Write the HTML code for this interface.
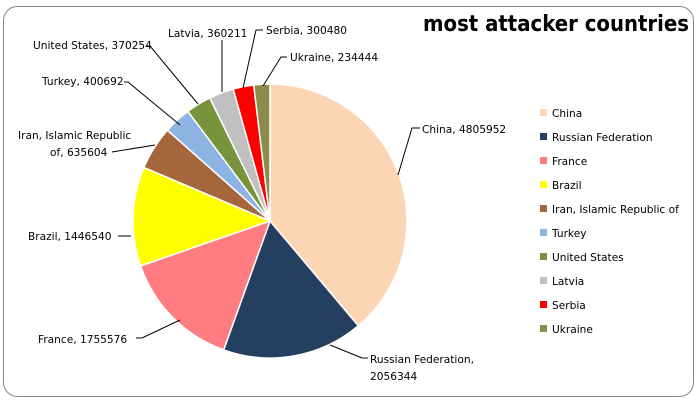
<!DOCTYPE html>
<html><head><meta charset="utf-8"><style>
body{margin:0;background:#fff;width:697px;height:401px;overflow:hidden}
svg text{font-family:"DejaVu Sans","Liberation Sans",sans-serif;font-size:10.6px;fill:#000}
</style></head><body>
<svg id="s" width="697" height="401" xmlns="http://www.w3.org/2000/svg">
<rect x="3.5" y="6.5" width="690" height="390" rx="14" fill="#fff" stroke="#888" stroke-width="1"/>
<text x="423" y="31" textLength="266" lengthAdjust="spacingAndGlyphs" style="font-size:22px;font-weight:bold">most attacker countries</text>
<g id="pie"></g>
<g fill="none" stroke="#000" stroke-width="1">
<polyline points="398,175 412,128 420,128"/>
<polyline points="330,345 362,358 368,358"/>
<polyline points="180,320 142,338 136,338"/>
<polyline points="131,236 118,236"/>
<polyline points="155,145 112,152"/>
<polyline points="180,125 128,82 124,82"/>
<polyline points="198,104 150,46 147,46"/>
<polyline points="222,92 222,40"/>
<polyline points="243,88 256,30 263,30"/>
<polyline points="263,86 281,57 287,57"/>
</g>
<text x="422" y="133">China, 4805952</text>
<text x="370" y="363">Russian Federation,</text>
<text x="370" y="380">2056344</text>
<text x="38" y="343">France, 1755576</text>
<text x="28" y="240">Brazil, 1446540</text>
<text x="18" y="139">Iran, Islamic Republic</text>
<text x="50" y="156">of, 635604</text>
<text x="42" y="85">Turkey, 400692</text>
<text x="33" y="49">United States, 370254</text>
<text x="168" y="37">Latvia, 360211</text>
<text x="266" y="34">Serbia, 300480</text>
<text x="290" y="61">Ukraine, 234444</text>
<g id="leg"></g>
</svg>
<script>
var d=[["China",4805952,"#fcd5b5"],["Russian Federation",2056344,"#243f60"],["France",1755576,"#ff7c80"],["Brazil",1446540,"#ffff00"],["Iran, Islamic Republic of",635604,"#a5663c"],["Turkey",400692,"#8db3e2"],["United States",370254,"#77933c"],["Latvia",360211,"#c0c0c0"],["Serbia",300480,"#ff0000"],["Ukraine",234444,"#8c8c4a"]];
var t=0;d.forEach(function(e){t+=e[1]});
var cx=270,cy=221,r=137,a=0,p="",l="";
d.forEach(function(e,i){var b=a+e[1]/t*2*Math.PI;
var x1=cx+r*Math.sin(a),y1=cy-r*Math.cos(a),x2=cx+r*Math.sin(b),y2=cy-r*Math.cos(b);
p+='<path d="M'+cx+','+cy+' L'+x1+','+y1+' A'+r+','+r+' 0 '+((b-a)>Math.PI?1:0)+' 1 '+x2+','+y2+' Z" fill="'+e[2]+'" stroke="#fff" stroke-width="1.5"/>';
a=b;var y=113+i*24;
l+='<rect x="540" y="'+(y-4)+'" width="7" height="7" fill="'+e[2]+'"/><text x="552" y="'+(y+4)+'">'+e[0]+'</text>';});
document.getElementById("pie").innerHTML=p;document.getElementById("leg").innerHTML=l;
</script>
</body></html>
